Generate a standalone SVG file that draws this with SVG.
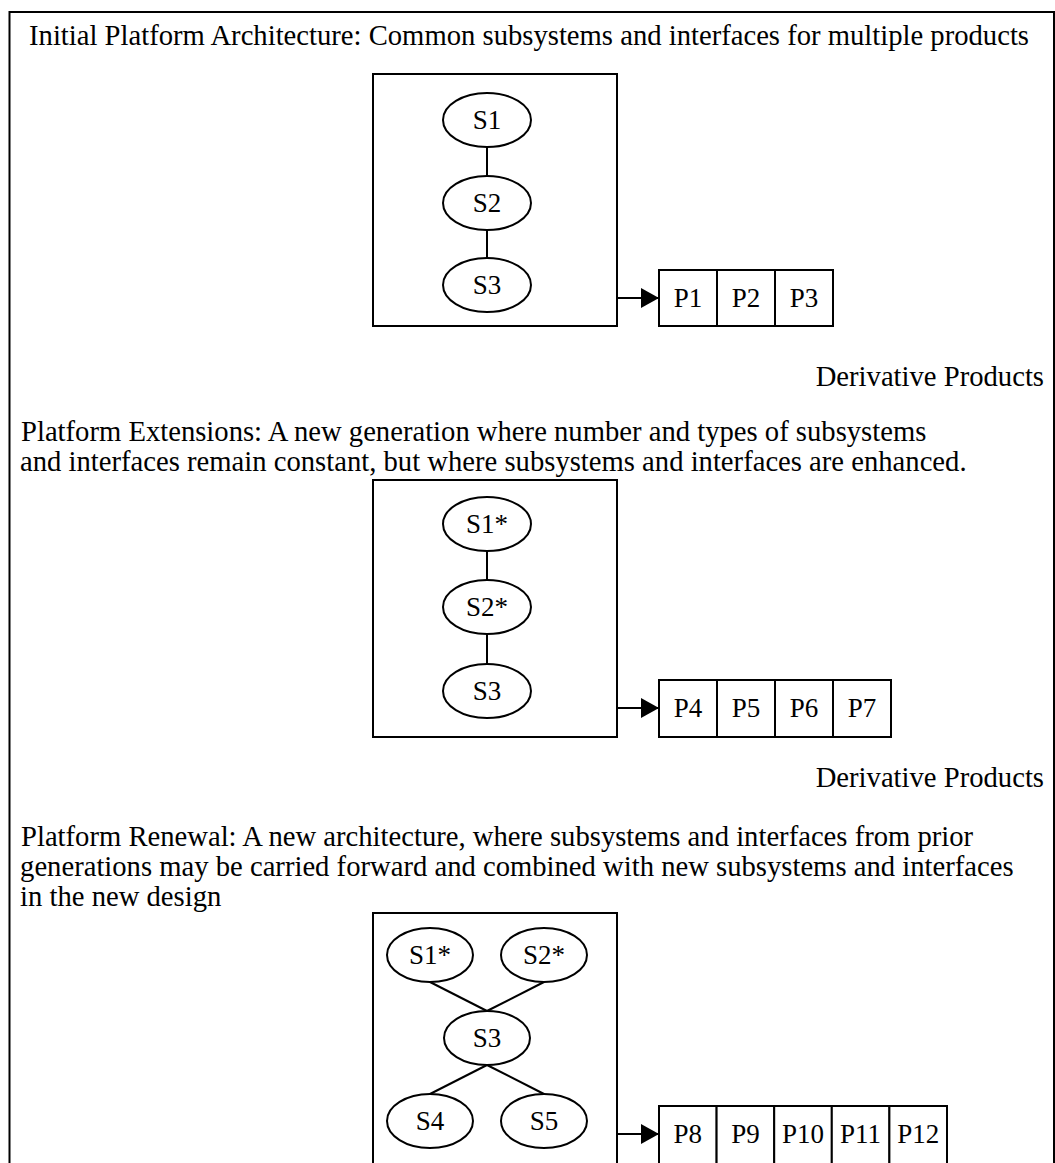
<svg xmlns="http://www.w3.org/2000/svg" width="1055" height="1163" viewBox="0 0 1055 1163">
  <defs>
    <style>
      .frame { fill: none; stroke: #000; stroke-width: 2; }
      .box { fill: #fff; stroke: #000; stroke-width: 2; }
      .node { fill: #fff; stroke: #000; stroke-width: 2; }
      .edge { fill: none; stroke: #000; stroke-width: 2; }
      .txt { font-family: "Liberation Serif", "Times New Roman", serif; font-size: 30px; fill: #000; }
      .lbl { font-family: "Liberation Serif", "Times New Roman", serif; font-size: 27px; fill: #000; text-anchor: middle; }
    </style>
    <marker id="arrow" markerUnits="userSpaceOnUse" markerWidth="18" markerHeight="20" refX="18" refY="10" orient="auto">
      <path d="M0,0 L18,10 L0,20 z" fill="#000"/>
    </marker>
  </defs>

  <rect width="1055" height="1163" fill="#fff"/>

  <!-- outer frame (continues below the bottom edge) -->
  <path class="frame" d="M9.5,1170 V12 H1054 V1170"/>

  <!-- captions: slightly condensed serif, x positions given in the condensed space -->
  <g transform="scale(0.955 1)">
    <text class="txt" x="30.4" y="45">Initial Platform Architecture: Common subsystems and interfaces for multiple products</text>
    <text class="txt" x="1093.2" y="386" text-anchor="end">Derivative Products</text>
    <text class="txt" x="22" y="441">Platform Extensions: A new generation where number and types of subsystems</text>
    <text class="txt" x="21" y="471">and interfaces remain constant, but where subsystems and interfaces are enhanced.</text>
    <text class="txt" x="1093.2" y="787" text-anchor="end">Derivative Products</text>
    <text class="txt" x="22" y="846">Platform Renewal: A new architecture, where subsystems and interfaces from prior</text>
    <text class="txt" x="21" y="876">generations may be carried forward and combined with new subsystems and interfaces</text>
    <text class="txt" x="21" y="906">in the new design</text>
  </g>

  <!-- ===== Section 1: initial platform ===== -->
  <g id="platform1">
    <rect class="box" x="373" y="74" width="244" height="252"/>
  </g>
  <g id="p1-edges">
    <line class="edge" x1="487" y1="147" x2="487" y2="176"/>
    <line class="edge" x1="487" y1="230" x2="487" y2="258"/>
    <line class="edge" x1="617" y1="298" x2="659" y2="298" marker-end="url(#arrow)"/>
  </g>
  <g id="s1-a"><ellipse class="node" cx="487" cy="120" rx="44" ry="27"/><text class="lbl" x="487" y="129">S1</text></g>
  <g id="s2-a"><ellipse class="node" cx="487" cy="203" rx="44" ry="27"/><text class="lbl" x="487" y="212">S2</text></g>
  <g id="s3-a"><ellipse class="node" cx="487" cy="285" rx="44" ry="27"/><text class="lbl" x="487" y="294">S3</text></g>
  <g id="products1">
    <rect class="box" x="659" y="270" width="58" height="56"/><text class="lbl" x="688" y="307">P1</text>
    <rect class="box" x="717" y="270" width="58" height="56"/><text class="lbl" x="746" y="307">P2</text>
    <rect class="box" x="775" y="270" width="58" height="56"/><text class="lbl" x="804" y="307">P3</text>
  </g>

  <!-- ===== Section 2: platform extensions ===== -->
  <g id="platform2">
    <rect class="box" x="373" y="480" width="244" height="257"/>
  </g>
  <g id="p2-edges">
    <line class="edge" x1="487" y1="551" x2="487" y2="580"/>
    <line class="edge" x1="487" y1="634" x2="487" y2="664"/>
    <line class="edge" x1="617" y1="708" x2="659" y2="708" marker-end="url(#arrow)"/>
  </g>
  <g id="s1star-b"><ellipse class="node" cx="487" cy="524" rx="44" ry="27"/><text class="lbl" x="487" y="533">S1*</text></g>
  <g id="s2star-b"><ellipse class="node" cx="487" cy="607" rx="44" ry="27"/><text class="lbl" x="487" y="616">S2*</text></g>
  <g id="s3-b"><ellipse class="node" cx="487" cy="691" rx="44" ry="27"/><text class="lbl" x="487" y="700">S3</text></g>
  <g id="products2">
    <rect class="box" x="659" y="680" width="58" height="57"/><text class="lbl" x="688" y="717">P4</text>
    <rect class="box" x="717" y="680" width="58" height="57"/><text class="lbl" x="746" y="717">P5</text>
    <rect class="box" x="775" y="680" width="58" height="57"/><text class="lbl" x="804" y="717">P6</text>
    <rect class="box" x="833" y="680" width="58" height="57"/><text class="lbl" x="862" y="717">P7</text>
  </g>

  <!-- ===== Section 3: platform renewal ===== -->
  <g id="platform3">
    <rect class="box" x="373" y="913" width="244" height="260"/>
  </g>
  <g id="p3-edges">
    <line class="edge" x1="430" y1="982" x2="487" y2="1011"/>
    <line class="edge" x1="544" y1="982" x2="487" y2="1011"/>
    <line class="edge" x1="487" y1="1065" x2="430" y2="1094"/>
    <line class="edge" x1="487" y1="1065" x2="544" y2="1094"/>
    <line class="edge" x1="617" y1="1134" x2="659" y2="1134" marker-end="url(#arrow)"/>
  </g>
  <g id="s1star-c"><ellipse class="node" cx="430" cy="955" rx="43" ry="27"/><text class="lbl" x="430" y="964">S1*</text></g>
  <g id="s2star-c"><ellipse class="node" cx="544" cy="955" rx="43" ry="27"/><text class="lbl" x="544" y="964">S2*</text></g>
  <g id="s3-c"><ellipse class="node" cx="487" cy="1038" rx="43" ry="27"/><text class="lbl" x="487" y="1047">S3</text></g>
  <g id="s4-c"><ellipse class="node" cx="430" cy="1121" rx="43" ry="27"/><text class="lbl" x="430" y="1130">S4</text></g>
  <g id="s5-c"><ellipse class="node" cx="544" cy="1121" rx="43" ry="27"/><text class="lbl" x="544" y="1130">S5</text></g>
  <g id="products3">
    <rect class="box" x="659" y="1106" width="57.6" height="70"/><text class="lbl" x="687.8" y="1143">P8</text>
    <rect class="box" x="716.6" y="1106" width="57.6" height="70"/><text class="lbl" x="745.4" y="1143">P9</text>
    <rect class="box" x="774.2" y="1106" width="57.6" height="70"/><text class="lbl" x="803" y="1143">P10</text>
    <rect class="box" x="831.8" y="1106" width="57.6" height="70"/><text class="lbl" x="860.6" y="1143">P11</text>
    <rect class="box" x="889.4" y="1106" width="57.6" height="70"/><text class="lbl" x="918.2" y="1143">P12</text>
  </g>
</svg>
